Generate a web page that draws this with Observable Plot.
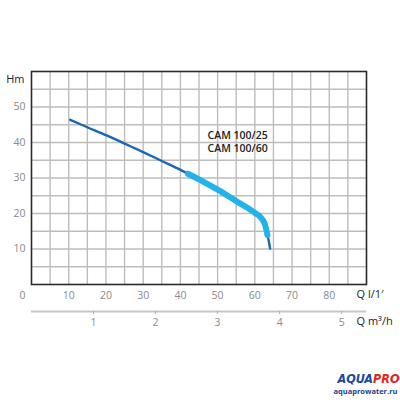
<!DOCTYPE html>
<html>
<head>
<meta charset="utf-8">
<script src="https://cdn.jsdelivr.net/npm/d3@7"></script>
<script src="https://cdn.jsdelivr.net/npm/@observablehq/plot@0.6"></script>
<style>
  html, body { margin: 0; padding: 0; background: #fff; }
  #chart { width: 400px; height: 400px; }
</style>
</head>
<body>
<div id="chart"></div>
<script>
// Pump curve: flow Q (l/min) vs head H (m)
const flowLmin = [10.4, 15, 20, 25, 30, 35, 40, 45, 50, 55, 58, 60, 61, 61.8, 62.5, 62.9, 63.4, 63.8, 64.1];
const headM    = [46.4, 44.3, 42.1, 39.7, 37.3, 34.8, 32.3, 29.6, 26.7, 23.5, 21.6, 20.2, 19.5, 18.6, 17.5, 16.2, 13.9, 12.0, 10.1];

// Recommended working range (highlighted)
const rangeFlow = [42, 45, 50, 55, 58, 60, 61, 61.8, 62.5, 62.9, 63.4];
const rangeHead = [31.2, 29.6, 26.7, 23.5, 21.6, 20.2, 19.5, 18.6, 17.5, 16.2, 13.9];

// Axes
const xTicksLmin = [10, 20, 30, 40, 50, 60, 70, 80];
const yTicksM = [10, 20, 30, 40, 50];
const m3hTicks = [1, 2, 3, 4, 5];
const gridX = [5, 10, 15, 20, 25, 30, 35, 40, 45, 50, 55, 60, 65, 70, 75, 80, 85];
const gridY = [5, 10, 15, 20, 25, 30, 35, 40, 45, 50, 55];

const modelLabel = "CAM 100/25\nCAM 100/60";
const modelPos = {q: 47.3, h: 40.3};
const yLabel = "Hm";
const xLabel = "Q l/1′";
const x2Label = "Q m³/h";

const curve = flowLmin.map((q, i) => ({q, h: headM[i]}));
const range = rangeFlow.map((q, i) => ({q, h: rangeHead[i]}));
const tickColor = "#8a8a8a";

const chart = Plot.plot({
  width: 400,
  height: 400,
  marginLeft: 31,
  marginRight: 34,
  marginTop: 71,
  marginBottom: 116,
  style: {fontFamily: "'Open Sans', sans-serif", fontSize: "10.5px", background: "#fff"},
  x: {domain: [0, 90], axis: null},
  y: {domain: [0, 60], axis: null},
  marks: [
    Plot.ruleX(gridX, {stroke: "#bdbdbd", strokeWidth: 1.4}),
    Plot.ruleY(gridY, {stroke: "#bdbdbd", strokeWidth: 1.4}),
    Plot.frame({stroke: "#2a2a2a", strokeWidth: 1.6}),
    // primary x axis (l/min)
    Plot.axisX({ticks: xTicksLmin, tickSize: 0, tickPadding: 7, fill: tickColor, anchor: "bottom", label: null}),
    Plot.axisX({ticks: [0], tickSize: 0, tickPadding: 7, fill: tickColor, anchor: "bottom", label: null, dx: -9}),
    // y axis
    Plot.axisY({ticks: yTicksM, tickSize: 0, tickPadding: 6, fill: tickColor, anchor: "left", label: null}),
    // secondary axis (m3/h)
    Plot.ruleY([0], {dy: 27, stroke: "#c8c8c8", strokeWidth: 2}),
    Plot.axisX({ticks: m3hTicks.map(v => v * 1000 / 60), tickFormat: d => String(Math.round(d * 60 / 1000)),
      tickSize: 3, tickPadding: 4, stroke: "#b0b0b0", fill: tickColor, anchor: "bottom", label: null, dy: 27}),
    // axis labels
    Plot.text([yLabel], {frameAnchor: "top-left", dx: -7, dy: 4, textAnchor: "end", fill: "#222", fontSize: 11}),
    Plot.text([xLabel], {frameAnchor: "bottom-right", dx: -10, dy: 13, textAnchor: "start", fill: "#222", fontSize: 11}),
    Plot.text([x2Label], {frameAnchor: "bottom-right", dx: -10, dy: 40, textAnchor: "start", fill: "#222", fontSize: 11}),
    // curves
    Plot.line(curve, {x: "q", y: "h", stroke: "#1a66b0", strokeWidth: 2.4, curve: "catmull-rom"}),
    Plot.line(range, {x: "q", y: "h", stroke: "#22b4e9", strokeWidth: 6, curve: "catmull-rom"}),
    // model annotation
    Plot.text([modelLabel], {x: () => modelPos.q, y: () => modelPos.h, textAnchor: "start", fill: "#222",
      fontWeight: 600, fontSize: 10.5, lineHeight: 1.2}),
    // logo
    Plot.text(["AQUA"], {frameAnchor: "bottom-right", dx: 6.5, dy: 98, textAnchor: "end", fill: "#1b4a9c",
      fontWeight: "bold", fontStyle: "italic", fontSize: 12.5, fontFamily: "'DejaVu Sans Condensed', 'DejaVu Sans', sans-serif"}),
    Plot.text(["PRO"], {frameAnchor: "bottom-right", dx: 6.5, dy: 98, textAnchor: "start", fill: "#e2231a",
      fontWeight: "bold", fontStyle: "italic", fontSize: 12.5, fontFamily: "'DejaVu Sans Condensed', 'DejaVu Sans', sans-serif"}),
    Plot.text(["aquaprowater.ru"], {frameAnchor: "bottom-right", dx: 31, dy: 109.5, textAnchor: "end", fill: "#1b3f8a",
      fontWeight: "bold", fontSize: 7.5})
  ]
});
document.getElementById("chart").appendChild(chart);
</script>
</body>
</html>
